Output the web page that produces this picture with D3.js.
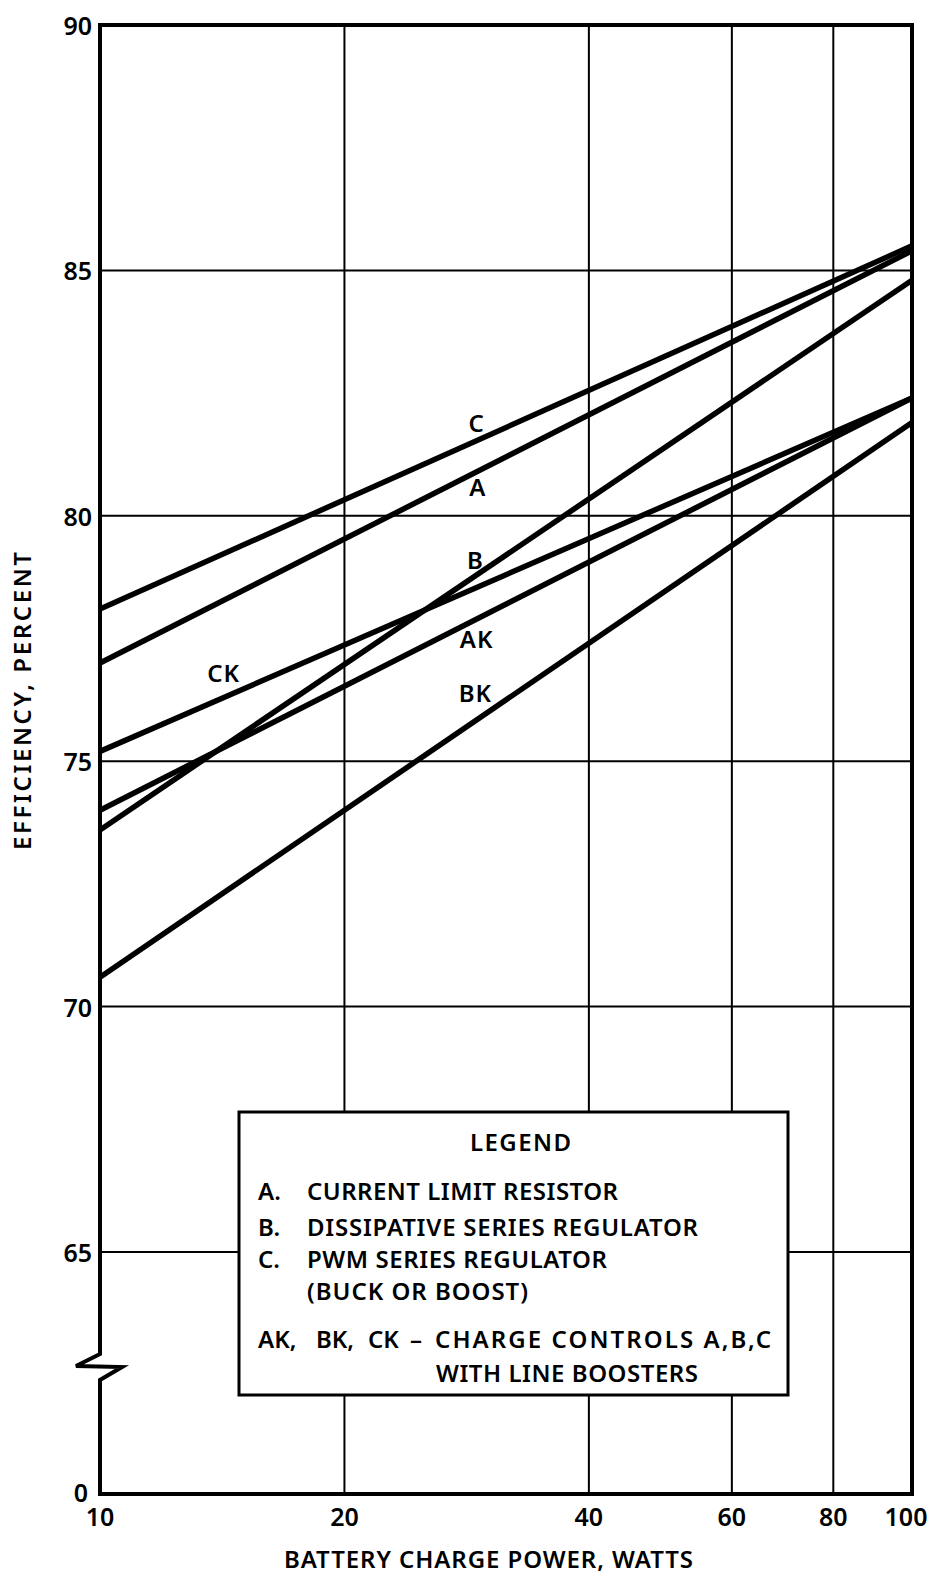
<!DOCTYPE html>
<html>
<head>
<meta charset="utf-8">
<script src="https://cdn.jsdelivr.net/npm/d3@7"></script>
<style>
  html, body { margin: 0; padding: 0; background: #fff; }
  svg { display: block; }
  text { font-family: "Noto Sans", "DejaVu Sans", sans-serif; fill: #000; font-weight: 600; }
</style>
</head>
<body>
<div id="chart"></div>
<script>
// values
const powerTicks = [10, 20, 40, 60, 80, 100];
const effTicks = [65, 70, 75, 80, 85, 90];
const seriesNames = ['C', 'A', 'B', 'CK', 'AK', 'BK'];
const effAt10W = [78.1, 77.0, 73.6, 75.2, 74.0, 70.6];
const effAt100W = [85.5, 85.4, 84.8, 82.4, 82.4, 81.9];
// where each curve name sits, in (watts, percent)
const labelPower = [29.1, 29.2, 29.0, 14.2, 29.1, 29.0];
const labelEff = [81.9, 80.6, 79.1, 76.8, 77.5, 76.4];
const legendLines = [
  ['A.', 'CURRENT LIMIT RESISTOR'],
  ['B.', 'DISSIPATIVE SERIES REGULATOR'],
  ['C.', 'PWM SERIES REGULATOR'],
  ['', '(BUCK OR BOOST)']
];

const W = 927, H = 1577;
const plotL = 100, plotR = 912, plotT = 25, plotB = 1494;

const svg = d3.select('#chart').append('svg')
  .attr('width', W).attr('height', H);

const x = d3.scaleLog().domain([10, 100]).range([plotL, plotR]);
const y = d3.scaleLinear().domain([65, 90]).range([1252, plotT]);

// grid
svg.append('g').selectAll('line')
  .data(effTicks.filter(d => d < 90))
  .enter().append('line')
  .attr('x1', plotL).attr('x2', plotR)
  .attr('y1', d => y(d)).attr('y2', d => y(d))
  .attr('stroke', '#000').attr('stroke-width', 2);

svg.append('g').selectAll('line')
  .data(powerTicks.filter(d => d > 10 && d < 100))
  .enter().append('line')
  .attr('x1', d => x(d)).attr('x2', d => x(d))
  .attr('y1', plotT).attr('y2', plotB)
  .attr('stroke', '#000').attr('stroke-width', 2);

// frame with the axis break
const frame = d3.path();
frame.moveTo(plotL, plotT);
frame.lineTo(plotR, plotT);
frame.lineTo(plotR, plotB);
frame.lineTo(plotL, plotB);
frame.lineTo(plotL, 1380);
frame.lineTo(plotL + 22, 1367);
frame.lineTo(plotL - 24, 1366);
frame.lineTo(plotL, 1354);
frame.closePath();
svg.append('path').attr('d', frame.toString())
  .attr('fill', 'none').attr('stroke', '#000')
  .attr('stroke-width', 4).attr('stroke-linejoin', 'miter');

// curves
const line = d3.line().x(d => x(d[0])).y(d => y(d[1]));
svg.append('g').selectAll('path')
  .data(seriesNames.map((n, i) => [[10, effAt10W[i]], [100, effAt100W[i]]]))
  .enter().append('path')
  .attr('d', line)
  .attr('fill', 'none').attr('stroke', '#000').attr('stroke-width', 5.5);

svg.append('g').selectAll('text')
  .data(seriesNames)
  .enter().append('text')
  .attr('x', (d, i) => x(labelPower[i]))
  .attr('y', (d, i) => y(labelEff[i]))
  .attr('text-anchor', 'middle')
  .attr('dominant-baseline', 'central')
  .attr('font-size', 24)
  .attr('letter-spacing', 1)
  .text(d => d);

// tick labels
svg.append('g').selectAll('text')
  .data(effTicks)
  .enter().append('text')
  .attr('x', plotL - 8)
  .attr('y', d => y(d))
  .attr('text-anchor', 'end')
  .attr('dominant-baseline', 'central')
  .attr('font-size', 25)
  .text(d => d);

svg.append('text')
  .attr('x', plotL - 12).attr('y', plotB - 2)
  .attr('text-anchor', 'end').attr('dominant-baseline', 'central')
  .attr('font-size', 25).text('0');

svg.append('g').selectAll('text')
  .data(powerTicks)
  .enter().append('text')
  .attr('x', d => d === 100 ? x(d) - 6 : x(d))
  .attr('y', plotB + 32)
  .attr('text-anchor', 'middle')
  .attr('font-size', 25)
  .text(d => d);

// axis titles
svg.append('text')
  .attr('x', 284).attr('y', 1568)
  .attr('font-size', 24)
  .attr('textLength', 409).attr('lengthAdjust', 'spacing')
  .text('BATTERY CHARGE POWER, WATTS');

svg.append('text')
  .attr('transform', 'translate(31,850) rotate(-90)')
  .attr('font-size', 24)
  .attr('textLength', 298).attr('lengthAdjust', 'spacing')
  .text('EFFICIENCY, PERCENT');

// legend
const lg = svg.append('g');
lg.append('rect')
  .attr('x', 239).attr('y', 1112).attr('width', 549).attr('height', 283)
  .attr('fill', '#fff').attr('stroke', '#000').attr('stroke-width', 3);

const addText = (tx, ty, str, len) => {
  const t = lg.append('text').attr('x', tx).attr('y', ty)
    .attr('font-size', 24).text(str);
  if (len) t.attr('textLength', len).attr('lengthAdjust', 'spacing');
  return t;
};

addText(470, 1151, 'LEGEND', 101);

const rowY = [1200, 1236, 1268, 1300];
const rowLen = [311, 391, 300, 221];
legendLines.forEach((r, i) => {
  if (r[0]) addText(258, rowY[i], r[0], 0);
  addText(307, rowY[i], r[1], rowLen[i]);
});

// the "AK, BK, CK –" run is spaced out in the original lettering
addText(258, 1348, 'AK,', 0);
addText(316, 1348, 'BK,', 0);
addText(368, 1348, 'CK', 0);
addText(410, 1348, '\u2013', 0);
addText(435, 1348, 'CHARGE CONTROLS A,B,C', 336);
addText(436, 1382, 'WITH LINE BOOSTERS', 262);
</script>
</body>
</html>
